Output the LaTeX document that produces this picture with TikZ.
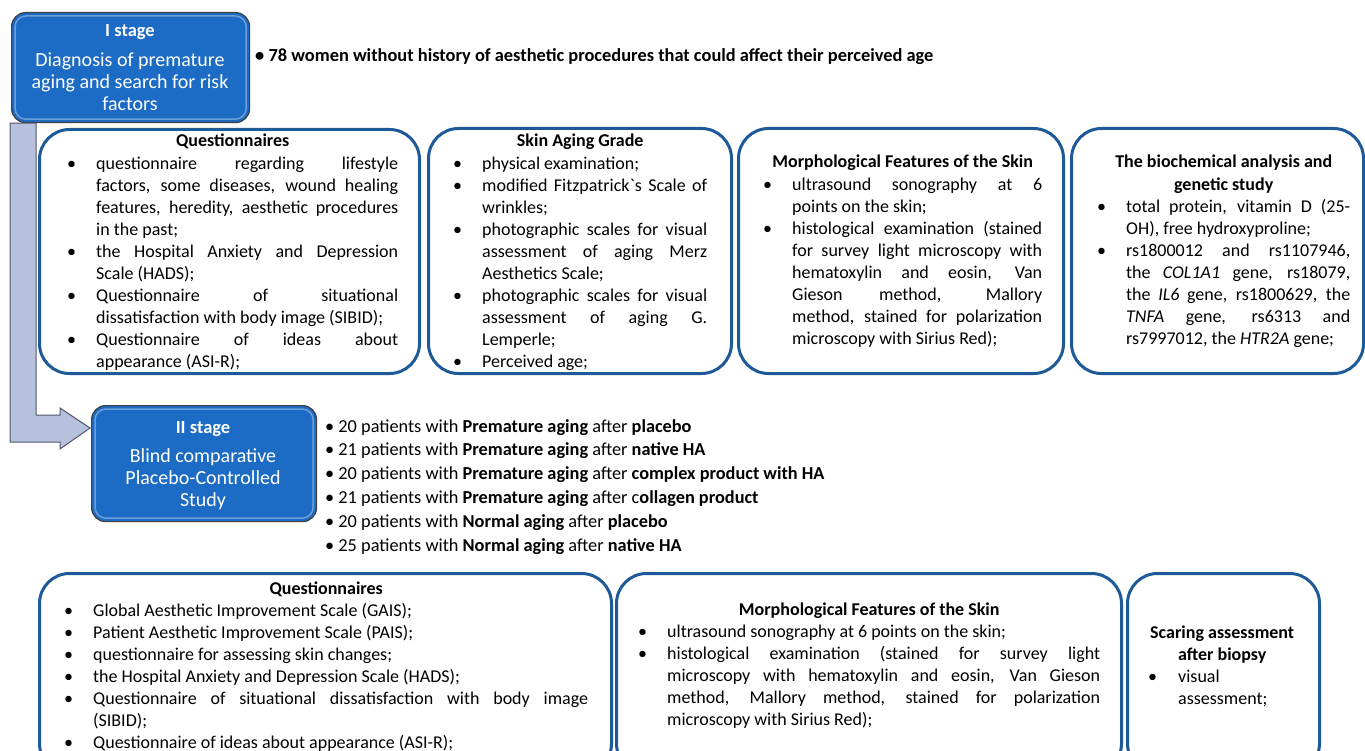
\documentclass[tikz,border=0pt]{standalone}
\usepackage{fontspec}
\setmainfont{Carlito}
\newfontfamily\cgrave{Carlito}[Ligatures=TeXOff]
\usetikzlibrary{calc}
\definecolor{stageblue}{HTML}{1C6BC4}
\definecolor{boxblue}{HTML}{1F5A98}
\definecolor{arrowfill}{HTML}{B7C0DD}
\definecolor{arrowdraw}{HTML}{50586C}
\hyphenpenalty=10000
\tolerance=9999
\emergencystretch=3em
\newcommand\mylabel[1]{#1\hfil}
\newenvironment{blist}[1][29pt]{\list{\textbullet}{\setlength\leftmargin{#1}\setlength\labelwidth{#1}\setlength\labelsep{0pt}\setlength\itemsep{0pt}\setlength\parsep{0pt}\setlength\topsep{0pt}\setlength\partopsep{0pt}\let\makelabel\mylabel}}{\endlist}
\tikzset{
  panel/.style={draw=boxblue, line width=3pt, rounded corners=30pt, fill=white, anchor=north west, inner sep=0pt},
  stage/.style={draw=black!75, line width=1.2pt, rounded corners=14pt, fill=stageblue, anchor=north west, inner sep=0pt},
  gloss/.style={draw=white, opacity=0.35, line width=1.5pt, rounded corners=11pt},
  boxtext/.style={anchor=base west, inner sep=0pt, text width=#1, align=justify, font=\fontsize{18}{22.1}\selectfont},
  stagetitle/.style={anchor=base, inner sep=0pt, text=white, font=\fontsize{18.5}{21}\selectfont\bfseries},
  stagebody/.style={anchor=base, inner sep=0pt, text=white, align=center, font=\fontsize{20}{22}\selectfont},
  arr/.style={fill=arrowfill, draw=arrowdraw, line width=1pt, line join=miter}
}
\begin{document}
\begin{tikzpicture}[x=1pt,y=-1pt]
\path[use as bounding box] (0,0) rectangle (1365,751);
\clip (0,0) rectangle (1365,751);

% stage boxes
\node[stage, minimum width=238pt, minimum height=110pt] (s1) at (11,12) {};
\node[stage, minimum width=225pt, minimum height=116pt] (s2) at (91,405) {};
\draw[gloss] ($(s1.north west)+(4,4)$) rectangle ($(s1.south east)+(-4,-4)$);
\draw[gloss] ($(s2.north west)+(4,4)$) rectangle ($(s2.south east)+(-4,-4)$);
\node[stagetitle] (s1t) at (130,37) {I stage};
\node[stagebody] (s1b) at (130,111) {Diagnosis of premature\\aging and search for risk\\factors};
\node[stagetitle] (s2t) at (203,433) {II stage};
\node[stagebody] (s2b) at (203,506) {Blind comparative\\Placebo-Controlled\\Study};

% bent arrow from stage I to stage II
\coordinate (tip) at ($(s2.north west)+(-1,23)$);
\draw[arr] ($(s1.south west)+(-1,0)$) |- ($(tip)+(-30,14)$) -- ($(tip)+(-30,21)$) -- (tip)
  -- ($(tip)+(-30,-20)$) -- ($(tip)+(-30,-13)$) -| ($(s1.south west)+(25,0)$) -- cycle;

% 78 women
\node[anchor=base west, inner sep=0pt, font=\fontsize{18.4}{20}\selectfont\bfseries] (w78) at (255,62)
  {\textbullet\ 78 women without history of aesthetic procedures that could affect their perceived age};

% top panels
\node[panel, minimum width=380pt, minimum height=244pt] (p1) at (38,128) {};
\node[panel, minimum width=303pt, minimum height=245pt] (p2) at (427,127) {};
\node[panel, minimum width=325pt, minimum height=245pt] (p3) at (737,127) {};
\node[panel, minimum width=292pt, minimum height=245pt] (p4) at (1070,127) {};

\node[boxtext=331pt] (t1) at (67,147) {{\centering\bfseries Questionnaires\par}
\begin{blist}
\item questionnaire regarding lifestyle\linebreak factors, some diseases, wound healing\linebreak features, heredity, aesthetic procedures\linebreak in the past;
\item the Hospital Anxiety and Depression\linebreak Scale (HADS);
\item Questionnaire of situational\linebreak dissatisfaction with body image (SIBID);
\item Questionnaire of ideas about\linebreak appearance (ASI-R);
\end{blist}};

\node[boxtext=254pt] (t2) at (453,147) {{\centering\bfseries Skin Aging Grade\par}
\begin{blist}
\item physical examination;
\item modified Fitzpatrick{\cgrave\symbol{96}}s Scale of\linebreak wrinkles;
\item photographic scales for visual\linebreak assessment of aging Merz\linebreak Aesthetics Scale;
\item photographic scales for visual\linebreak assessment of aging G.\linebreak Lemperle;
\item Perceived age;
\end{blist}};

\node[boxtext=279pt] (t3) at (763,168) {{\centering\bfseries Morphological Features of the Skin\par}
\begin{blist}
\item ultrasound sonography at 6\linebreak points on the skin;
\item histological examination (stained\linebreak for survey light microscopy with\linebreak hematoxylin and eosin, Van\linebreak Gieson method, Mallory\linebreak method, stained for polarization\linebreak microscopy with Sirius Red);
\end{blist}};

\node[boxtext=253pt] (t4) at (1097,168) {{\centering\bfseries The biochemical analysis and\par genetic study\par}
\begin{blist}
\item total protein, vitamin D (25-\linebreak OH), free hydroxyproline;
\item rs1800012 and rs1107946,\linebreak the \textit{COL1A1} gene, rs18079,\linebreak the \textit{IL6} gene, rs1800629, the\linebreak \textit{TNFA} gene, rs6313 and\linebreak rs7997012, the \textit{HTR2A} gene;
\end{blist}};

% patients list
\node[anchor=base west, inner sep=0pt, align=left, font=\fontsize{18.3}{23.8}\selectfont] (pl) at (325,551)
{\textbullet\ 20 patients with \textbf{Premature aging} after \textbf{placebo}\\
\textbullet\ 21 patients with \textbf{Premature aging} after \textbf{native HA}\\
\textbullet\ 20 patients with \textbf{Premature aging} after \textbf{complex product with HA}\\
\textbullet\ 21 patients with \textbf{Premature aging} after c\textbf{ollagen product}\\
\textbullet\ 20 patients with \textbf{Normal aging} after \textbf{placebo}\\
\textbullet\ 25 patients with \textbf{Normal aging} after \textbf{native HA}};

% bottom panels
\node[panel, minimum width=572pt, minimum height=200pt] (p5) at (38,572) {};
\node[panel, minimum width=505pt, minimum height=200pt] (p6) at (615,572) {};
\node[panel, minimum width=192pt, minimum height=200pt] (p7) at (1126,572) {};

\node[boxtext=524pt] (t5) at (64,594) {{\centering\bfseries Questionnaires\par}
\begin{blist}
\item Global Aesthetic Improvement Scale (GAIS);
\item Patient Aesthetic Improvement Scale (PAIS);
\item questionnaire for assessing skin changes;
\item the Hospital Anxiety and Depression Scale (HADS);
\item Questionnaire of situational dissatisfaction with body image\linebreak (SIBID);
\item Questionnaire of ideas about appearance (ASI-R);
\end{blist}};

\node[boxtext=462pt] (t6) at (638,615) {{\centering\bfseries Morphological Features of the Skin\par}
\begin{blist}
\item ultrasound sonography at 6 points on the skin;
\item histological examination (stained for survey light\linebreak microscopy with hematoxylin and eosin, Van Gieson\linebreak method, Mallory method, stained for polarization\linebreak microscopy with Sirius Red);
\end{blist}};

\node[boxtext=148pt] (t7) at (1148,638) {{\centering\bfseries Scaring assessment\par after biopsy\par}
\begin{blist}[30pt]
\item visual\linebreak assessment;
\end{blist}};
\end{tikzpicture}
\end{document}
